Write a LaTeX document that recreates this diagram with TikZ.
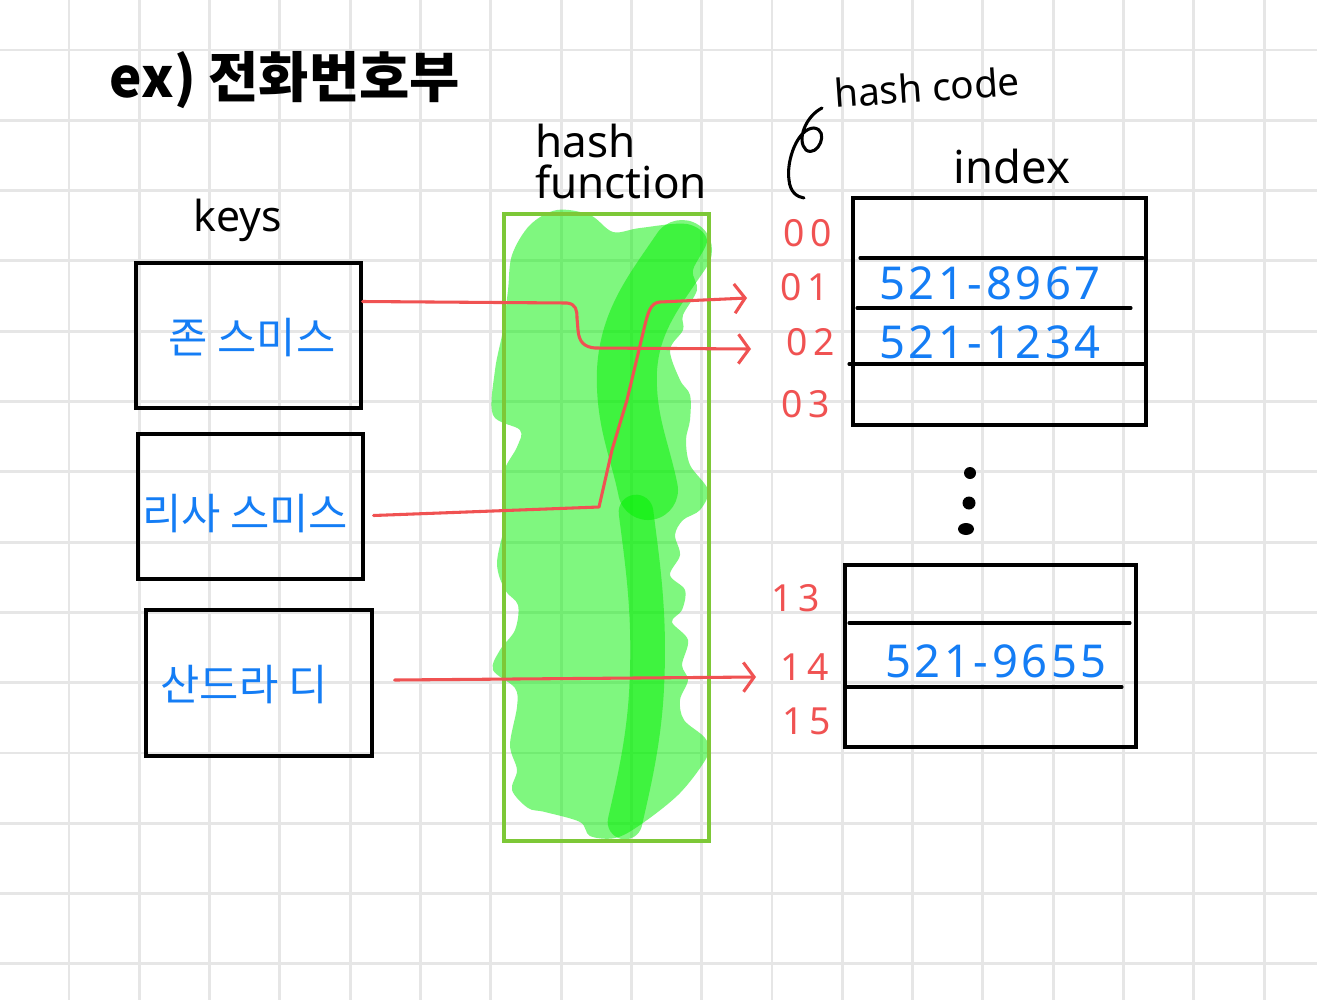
\documentclass[tikz,border=0pt]{standalone}
\usepackage{fontspec}
\setmainfont{Noto Sans}
\newfontfamily\kr{Noto Sans CJK KR}
\newfontfamily\numfont[LetterSpace=15]{Noto Sans}
\newfontfamily\bluefont[LetterSpace=8]{Noto Sans}
\usetikzlibrary{arrows.meta}
\definecolor{gridc}{RGB}{230,230,230}
\definecolor{bluepen}{RGB}{20,125,245}
\definecolor{redpen}{RGB}{240,82,82}
\definecolor{greenpen}{RGB}{0,240,0}
\definecolor{boxgreen}{RGB}{125,200,55}
\begin{document}
\begin{tikzpicture}[x=0.75pt,y=-0.75pt,
  gridline/.style={draw=gridc, line width=2.2pt},
  keybox/.style={draw=black, line width=2.3pt, inner sep=0pt},
  rowline/.style={draw=black, line width=2.3pt, line cap=round},
  redlink/.style={draw=redpen, line width=2.3pt, line cap=round, line join=round,
     -{Straight Barb[length=8pt, width=22pt, line width=2.3pt]}},
  hand/.style={text=black, inner sep=0pt},
  keytext/.style={text=bluepen, font=\kr\fontsize{32}{34}\selectfont, inner sep=0pt},
  numtext/.style={text=bluepen, font=\bluefont\fontsize{34}{38}\selectfont, inner sep=0pt},
  rowlabel/.style={text=redpen, font=\numfont\fontsize{28}{30}\selectfont, inner sep=0pt},
  greenlayer/.style={greenpen, opacity=0.5},
]
\useasboundingbox (0,0) rectangle (1317,1000);
\fill[white] (0,0) rectangle (1317,1000);
\foreach \i in {0,...,17} \draw[gridline] ({69+70.3*\i},0) -- ({69+70.3*\i},1000);
\foreach \i in {0,...,13} \draw[gridline] (0,{50+70.3*\i}) -- (1317,{50+70.3*\i});

% title
\node[hand, font=\kr\bfseries\fontsize{41}{44}\selectfont] (title) at (285,80) {ex) 전화번호부};

% keys
\node[hand, font=\fontsize{32}{34}\selectfont] (keys) at (238,220) {keys};
\node[keybox, minimum width=225*0.75pt, minimum height=145*0.75pt] (k1) at (248.5,335.5) {};
\node[keybox, minimum width=225*0.75pt, minimum height=145*0.75pt] (k2) at (250.5,506.5) {};
\node[keybox, minimum width=226*0.75pt, minimum height=146*0.75pt] (k3) at (259,683) {};
\node[keytext] (k1t) at (252,338) {존 스미스};
\node[keytext] (k2t) at (245,514) {리사 스미스};
\node[keytext] (k3t) at (244,685) {산드라 디};

% hash function
\node[hand, anchor=base west, font=\fontsize{33}{34}\selectfont] (hf1) at (535,157) {hash};
\node[hand, anchor=base west, font=\fontsize{33}{34}\selectfont] (hf2) at (535,198) {function};

\fill[greenlayer] plot[smooth cycle, tension=0.55] coordinates {
 (557,210) (590,215) (613,232) (640,228) (687,224) (707,240) (693,270) (697,290)
 (683,315) (683,330) (670,350) (680,380) (690,395) (690,420) (686,440) (690,465)
 (708,490) (700,510) (683,520) (675,535) (680,555) (670,575) (685,590) (682,610)
 (672,622) (688,640) (682,665) (688,680) (680,700) (684,720) (705,738) (708,755)
 (680,793) (640,825) (615,838) (590,836) (580,822) (545,812) (528,808) (512,790)
 (517,770) (510,745) (517,707) (515,688) (493,670) (500,650) (515,630) (518,605)
 (505,590) (497,563) (505,520) (503,475) (517,447) (520,430) (493,415) (495,370)
 (503,330) (508,290) (512,255) (530,225)};
\draw[greenlayer, line width=45pt, line cap=round, line join=round]
  (682,250) .. controls (655,290) and (630,320) .. (627,370)
  .. controls (625,420) and (640,450) .. (648,490);
\draw[greenlayer, line width=26pt, line cap=round, line join=round]
  (636,512) .. controls (642,560) and (650,610) .. (647,680)
  .. controls (645,740) and (632,790) .. (625,822);
\node[draw=boxgreen, line width=2.3pt, minimum width=205*0.75pt, minimum height=627*0.75pt, inner sep=0pt] (hf) at (606.5,527.5) {};

% hash code label and curl
\node[hand, font=\fontsize{29}{32}\selectfont, rotate=4] (hc) at (927,87) {hash code};
\coordinate (curlstart) at (822,108);
\draw[line width=2.3pt, line cap=round, line join=round] (curlstart)
  .. controls (806,116) and (796,140) .. (806,150)
  .. controls (818,158) and (830,130) .. (814,128)
  .. controls (798,128) and (786,160) .. (789,180)
  .. controls (790,192) and (797,197) .. (804,198);
\node[hand, font=\fontsize{34}{36}\selectfont] (idx) at (1012,166) {index};

% row labels
\node[rowlabel] (r00) at (808,233) {00};
\node[rowlabel] (r01) at (805,287) {01};
\node[rowlabel] (r02) at (811,342) {02};
\node[rowlabel] (r03) at (806,404) {03};
\node[rowlabel] (r13) at (796,598) {13};
\node[rowlabel] (r14) at (805,667) {14};
\node[rowlabel] (r15) at (807,721) {15};

% table 1
\node[keybox, minimum width=293*0.75pt, minimum height=227*0.75pt] (tab1) at (999.5,311.5) {};
\draw[rowline] (860,258) -- (1143,258);
\draw[rowline] (857,308) -- (1131,308);
\draw[rowline] (849,364) -- (1146,364);
\node[numtext] (v1) at (990,283) {521-8967};
\node[numtext] (v2) at (990,342) {521-1234};

% dots
\fill (970,473) circle (6);
\fill (969,503) circle (6.5);
\fill (966,529) ellipse (8 and 6);

% table 2
\node[keybox, minimum width=291*0.75pt, minimum height=182*0.75pt] (tab2) at (990.5,656) {};
\draw[rowline] (849,623) -- (1130,623);
\draw[rowline] (845,687) -- (1122,687);
\node[numtext] (v3) at (996,661) {521-9655};

% red connectors
\coordinate (t01) at (747,298);
\coordinate (t02) at (751,349);
\coordinate (t14) at (756,677);
\draw[redlink] ([shift={(0,-34)}]k1.east) -- (567,303)
  .. controls (576,304) and (577,310) .. (577,318) -- (578,330)
  .. controls (579,342) and (584,347) .. (595,348) -- (t02);
\draw[redlink] ([shift={(9,9)}]k2.east) -- (599,507) -- (612,450) -- (627,400)
  -- (643,333) .. controls (648,312) and (650,303) .. (660,302) -- (t01);
\draw[redlink] ([shift={(21,-3)}]k3.east) -- (t14);
\end{tikzpicture}
\end{document}
